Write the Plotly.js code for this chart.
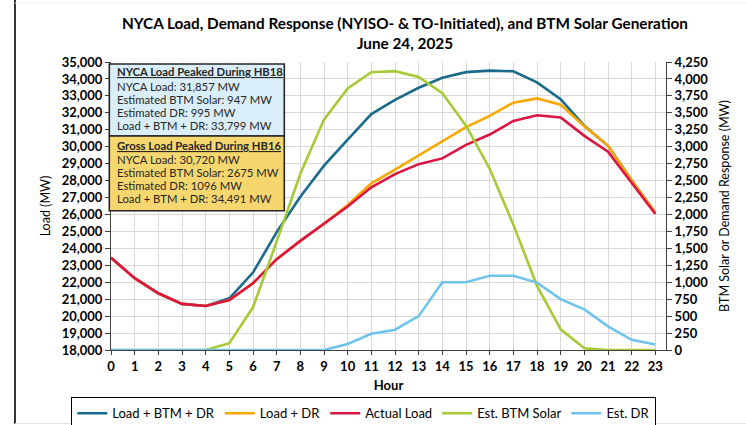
<!DOCTYPE html>
<html>
<head>
<meta charset="utf-8">
<script src="https://cdn.plot.ly/plotly-3.0.1.min.js"></script>
<style>
html,body{margin:0;padding:0;background:#fff;}
#chart{width:746px;height:425px;}
</style>
</head>
<body>
<div id="chart"></div>
<script>
// ---- data ----
const hours = [0,1,2,3,4,5,6,7,8,9,10,11,12,13,14,15,16,17,18,19,20,21,22,23];
const loadBtmDr = [23450,22240,21350,20720,20600,21050,22570,24960,27050,28880,30420,31930,32760,33480,34070,34400,34491,34450,33799,32800,31235,30050,28020,26100];
const loadDr    = [23450,22240,21350,20720,20600,20950,21940,23360,24440,25450,26560,27840,28650,29470,30330,31160,31816,32600,32852,32480,31210,30050,28010,26100];
const actualLoad= [23450,22240,21350,20720,20600,20950,21940,23360,24440,25450,26470,27600,28380,28970,29310,30110,30720,31520,31857,31730,30640,29710,27860,26030];
const btmSolar  = [0,0,0,0,0,100,630,1600,2600,3400,3860,4100,4115,4030,3790,3310,2675,1850,947,305,25,0,0,0];
const estDR     = [0,0,0,0,0,0,0,0,0,0,90,240,300,500,1000,1000,1096,1096,995,750,600,350,150,80];

const seriesNames = ["Load + BTM + DR","Load + DR","Actual Load","Est. BTM Solar","Est. DR"];
const seriesColors = ["#1A6A8C","#F8A800","#DC1440","#A6C936","#70C3EC"];

const leftTicks = [18000,19000,20000,21000,22000,23000,24000,25000,26000,27000,28000,29000,30000,31000,32000,33000,34000,35000];
const rightTicks = [0,250,500,750,1000,1250,1500,1750,2000,2250,2500,2750,3000,3250,3500,3750,4000,4250];

const box1Lines = ["<b><u>NYCA Load Peaked During HB18</u></b>","NYCA Load: 31,857 MW","Estimated BTM Solar: 947 MW","Estimated DR: 995 MW","Load + BTM + DR: 33,799 MW"];
const box2Lines = ["<b><u>Gross Load Peaked During HB16</u></b>","NYCA Load: 30,720 MW","Estimated BTM Solar: 2675 MW","Estimated DR: 1096 MW","Load + BTM + DR: 34,491 MW"];

// ---- geometry (pixels) ----
const W = 746, H = 425;
const L = 111, R = 666, T = 62, B = 350;
const px2x = x => (x - L) / (R - L);
const px2y = y => (B - y) / (B - T);

const FONT = "Lato, 'Open Sans', sans-serif";

const ys = [loadBtmDr, loadDr, actualLoad, btmSolar, estDR];
const traces = ys.map((y, i) => ({
  x: hours, y: y, type: "scatter", mode: "lines",
  name: seriesNames[i],
  yaxis: i < 3 ? "y" : "y2",
  line: {color: seriesColors[i], width: 2.6},
  hoverinfo: "x+y+name"
}));

const fmt = v => v.toLocaleString("en-US");

const shapes = [
  {type:"rect", xref:"paper", yref:"paper", x0:px2x(109.3), x1:px2x(284.3), y0:px2y(136), y1:px2y(64),
   fillcolor:"#DAEEF9", line:{color:"#262626", width:1.6}, layer:"above"},
  {type:"rect", xref:"paper", yref:"paper", x0:px2x(109.3), x1:px2x(284.3), y0:px2y(210.7), y1:px2y(136),
   fillcolor:"#F6D76F", line:{color:"#262626", width:1.6}, layer:"above"},
  {type:"line", xref:"paper", yref:"paper", x0:px2x(15), x1:px2x(15), y0:px2y(424), y1:px2y(0),
   line:{color:"#000000", width:1.6}},
  {type:"line", xref:"paper", yref:"paper", x0:px2x(15), x1:px2x(746), y0:px2y(423.5), y1:px2y(423.5),
   line:{color:"#E3E3E3", width:1}},
  {type:"line", xref:"paper", yref:"paper", x0:px2x(15), x1:px2x(746), y0:px2y(3), y1:px2y(3),
   line:{color:"#F0F0F0", width:1}}
];

const y1c = [71.7, 86.2, 99.6, 112.4, 125.5];
const y2c = [145.7, 159.5, 172.8, 185.8, 198.8];
const annotations = [];
box1Lines.forEach((t, i) => annotations.push({
  text: t, xref:"paper", yref:"paper", x: px2x(114.5), y: px2y(y1c[i]),
  xanchor:"left", yanchor:"middle", showarrow:false,
  font:{family:FONT, size:11.3, color:"#262626"}
}));
box2Lines.forEach((t, i) => annotations.push({
  text: t, xref:"paper", yref:"paper", x: px2x(114.5), y: px2y(y2c[i]),
  xanchor:"left", yanchor:"middle", showarrow:false,
  font:{family:FONT, size:11.3, color:"#262626"}
}));

const layout = {
  width: W, height: H,
  margin: {l: L, r: W - R, t: T, b: H - B, pad: 0, autoexpand: false},
  paper_bgcolor: "#ffffff", plot_bgcolor: "#ffffff",
  font: {family: FONT, color: "#000000"},
  title: {
    text: "<b>NYCA Load, Demand Response (NYISO- & TO-Initiated), and BTM Solar Generation<br>June 24, 2025</b>",
    font: {family: FONT, size: 15.3, color: "#000000"},
    x: 405 / W, xanchor: "center", xref: "container",
    y: 1 - 29 / H, yanchor: "middle", yref: "container"
  },
  xaxis: {
    range: [0, 23.45], tickvals: hours, ticktext: hours.map(v => "<b>" + v + "</b>"),
    showgrid: true, gridcolor: "#D9D9D9", gridwidth: 1,
    showline: true, linecolor: "#404040", linewidth: 1,
    ticks: "outside", ticklen: 4, tickcolor: "#404040",
    tickfont: {family: FONT, size: 13, color: "#000"},
    title: {text: "<b>Hour</b>", font: {family: FONT, size: 13, color: "#000"}, standoff: 8},
    zeroline: false, fixedrange: true
  },
  yaxis: {
    range: [18000, 35000], tickvals: leftTicks, ticktext: leftTicks.map(v => "<b>" + fmt(v) + "</b>"),
    showgrid: true, gridcolor: "#D9D9D9", gridwidth: 1,
    showline: true, linecolor: "#404040", linewidth: 1,
    ticks: "outside", ticklen: 5, tickcolor: "#404040",
    tickfont: {family: FONT, size: 13, color: "#000"},
    title: {text: "Load (MW)", font: {family: FONT, size: 12.5, color: "#000"}, standoff: 8},
    zeroline: false, fixedrange: true
  },
  yaxis2: {
    range: [0, 4250], overlaying: "y", side: "right",
    tickvals: rightTicks, ticktext: rightTicks.map(v => "<b>" + fmt(v) + "</b>"),
    showgrid: false, showline: true, linecolor: "#404040", linewidth: 1,
    ticks: "outside", ticklen: 5, tickcolor: "#404040",
    tickfont: {family: FONT, size: 13, color: "#000"},
    title: {text: "BTM Solar or Demand Response (MW)", font: {family: FONT, size: 12.5, color: "#000"}, standoff: 12},
    zeroline: false, fixedrange: true
  },
  legend: {
    orientation: "h", xref: "paper", yref: "paper",
    x: px2x(71), xanchor: "left", y: px2y(397), yanchor: "top",
    bordercolor: "#000000", borderwidth: 1.3, bgcolor: "#ffffff",
    font: {family: FONT, size: 13, color: "#000"},
    traceorder: "normal", itemwidth: 30
  },
  shapes: shapes,
  annotations: annotations,
  showlegend: true
};

Plotly.newPlot("chart", traces, layout, {displayModeBar: false, staticPlot: true});
</script>
</body>
</html>
